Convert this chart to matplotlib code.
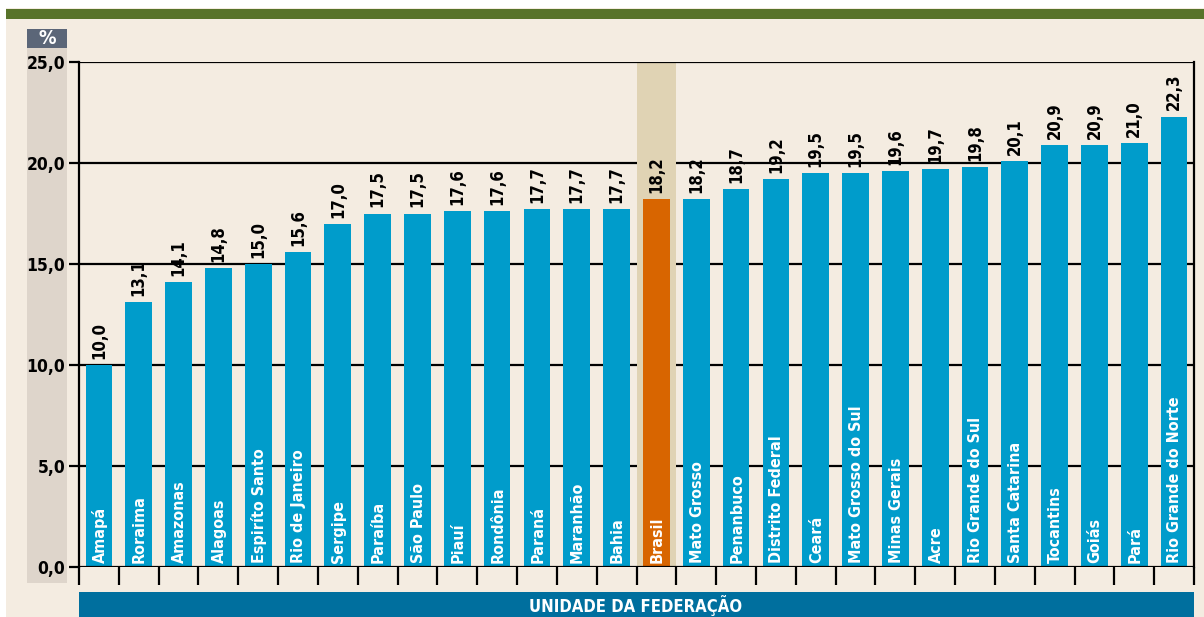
import matplotlib
matplotlib.use("Agg")
import matplotlib.pyplot as plt
import numpy as np
from matplotlib.patches import Rectangle

# data
estados = ["Amapá", "Roraima", "Amazonas", "Alagoas", "Espiríto Santo", "Rio de Janeiro",
           "Sergipe", "Paraíba", "São Paulo", "Piauí", "Rondônia", "Paraná", "Maranhão",
           "Bahia", "Brasil", "Mato Grosso", "Penanbuco", "Distrito Federal", "Ceará",
           "Mato Grosso do Sul", "Minas Gerais", "Acre", "Rio Grande do Sul",
           "Santa Catarina", "Tocantins", "Goiás", "Pará", "Rio Grande do Norte"]
valores = [10.0, 13.1, 14.1, 14.8, 15.0, 15.6, 17.0, 17.5, 17.5, 17.6, 17.6, 17.7, 17.7,
           17.7, 18.2, 18.2, 18.7, 19.2, 19.5, 19.5, 19.6, 19.7, 19.8, 20.1, 20.9, 20.9,
           21.0, 22.3]
yticks = [0, 5, 10, 15, 20, 25]
destaque = "Brasil"

plt.rcParams['font.family'] = ['DejaVu Sans']
plt.rcParams['font.stretch'] = 'condensed'
plt.rcParams['font.weight'] = 'bold'

W, H = 1204, 617
fig = plt.figure(figsize=(W / 100, H / 100), dpi=100)
fig.patch.set_facecolor("white")

def box(x0, y0, x1, y1, color):
    fig.patches.append(Rectangle((x0 / W, 1 - y1 / H), (x1 - x0) / W, (y1 - y0) / H,
                                 transform=fig.transFigure, color=color, zorder=-5, lw=0))

box(6, 8, W, H, "#F4ECE1")        # fundo
box(6, 9, W, 19, "#58732A")       # faixa verde
box(27, 48, 67, 583, "#DED5CB")   # faixa do eixo y
box(27, 29, 67, 48, "#5B6678")    # caixa do %
box(79, 592, 1194, H, "#006F9E")  # faixa inferior
fig.text(47 / W, 1 - 39 / H, "%", color="white", fontsize=14, ha="center", va="center")
fig.text(636 / W, 1 - 606 / H, "UNIDADE DA FEDERAÇÃO", color="white", fontsize=12,
         ha="center", va="center")

ax = fig.add_axes([79 / W, 1 - 567 / H, (1194 - 79) / W, (567 - 62) / H])
ax.set_facecolor("none")
n = len(estados)
x = np.arange(n)
ax.set_xlim(-0.5, n - 0.5)
ax.set_ylim(0, 25)

for v in yticks:
    ax.axhline(v, color="black", lw=1.6, zorder=3 if v in (0, 25) else 1)

i_br = estados.index(destaque)
ax.axvspan(i_br - 0.5, i_br + 0.5, 0, 1, color="#E0D3B4", lw=0, zorder=1.5)

cores = ["#D86500" if e == destaque else "#009CCB" for e in estados]
ax.bar(x, valores, width=0.67, color=cores, zorder=2)

for xi, v, e in zip(x, valores, estados):
    ax.text(xi, v + 0.3, f"{v:.1f}".replace(".", ","), rotation=90, ha="center",
            va="bottom", fontsize=12, color="black")
    ax.text(xi + 0.02, 0.22, e, rotation=90, ha="center", va="bottom", fontsize=11.5,
            color="white", zorder=4)

ax.set_yticks(yticks)
ax.set_yticklabels([f"{v:.1f}".replace(".", ",") for v in yticks], fontsize=12.5)
ax.set_xticks(np.arange(-0.5, n, 1))
ax.set_xticklabels([])
ax.tick_params(axis="x", length=13, width=1.6, direction="out")
ax.tick_params(axis="y", length=7, width=1.6, direction="out", pad=3)
for s in ["top", "bottom"]:
    ax.spines[s].set_visible(False)
for s in ["left", "right"]:
    ax.spines[s].set_linewidth(1.6)

fig.savefig("out.png", dpi=100, facecolor=fig.get_facecolor())
